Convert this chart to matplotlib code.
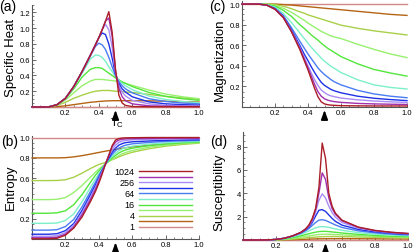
import matplotlib
matplotlib.use('Agg')
import matplotlib.pyplot as plt
from matplotlib.ticker import MultipleLocator

plt.rcParams['font.family'] = ['Liberation Sans', 'DejaVu Sans']

# ── data ──────────────────────────────────────────────────────────────────────
NS = [1, 2, 4, 8, 16, 32, 64, 128, 256, 512, 1024]
COLORS = {1: '#d48888', 2: '#b46414', 4: '#a8d048', 8: '#98f06e',
          16: '#52e63c', 32: '#7df0c8', 64: '#4a7cf2', 128: '#1e32e6',
          256: '#a98cf5', 512: '#a030b0', 1024: '#aa1e28'}

T = [0, .1, .15, .2, .25, .3, .35, .38, .4, .42, .44, .46, .48, .5, .52,
     .54, .56, .6, .7, .8, .9, 1.0]

heat = {
    1:    [0] * 22,
    2:    [0, 0, .005, .015, .03, .045, .06, .065, .07, .073, .076, .078, .08, .08, .08, .08, .08, .08, .078, .073, .068, .063],
    4:    [0, 0, .02, .06, .11, .15, .185, .2, .205, .21, .21, .21, .205, .2, .2, .195, .19, .185, .16, .135, .115, .1],
    8:    [0, 0, .025, .09, .18, .27, .33, .35, .35, .35, .345, .34, .335, .33, .32, .31, .3, .275, .215, .165, .13, .105],
    16:   [0, 0, .03, .105, .23, .38, .48, .5, .5, .49, .46, .43, .4, .37, .345, .32, .3, .26, .185, .135, .105, .085],
    32:   [0, 0, .03, .11, .25, .43, .61, .66, .655, .63, .58, .51, .45, .39, .34, .3, .27, .22, .14, .095, .07, .055],
    64:   [0, 0, .03, .11, .26, .45, .65, .77, .81, .79, .73, .63, .51, .4, .32, .27, .23, .18, .105, .07, .05, .04],
    128:  [0, 0, .03, .11, .26, .45, .66, .79, .88, .94, .92, .8, .62, .41, .3, .23, .19, .13, .065, .04, .03, .024],
    256:  [0, 0, .03, .11, .26, .45, .66, .79, .88, .98, 1.05, .98, .76, .43, .27, .19, .14, .085, .04, .022, .016, .013],
    512:  [0, 0, .03, .11, .26, .45, .66, .79, .88, .98, 1.09, 1.13, .9, .46, .24, .13, .08, .04, .015, .01, .008, .007],
    1024: [0, 0, .03, .11, .26, .45, .66, .79, .88, .98, 1.09, 1.21, .95, .48, .15, .05, .02, .006, .003, .003, .003, .003],
}

entropy = {
    1:    [1] * 22,
    2:    [.8, .8, .8, .802, .81, .822, .837, .847, .853, .86, .866, .872, .878, .884, .889, .894, .899, .908, .925, .94, .952, .962],
    4:    [.577, .577, .578, .585, .61, .65, .695, .72, .735, .745, .755, .768, .782, .795, .81, .823, .835, .855, .89, .915, .932, .945],
    8:    [.39, .39, .393, .41, .46, .53, .61, .66, .69, .715, .74, .765, .785, .805, .823, .84, .853, .872, .905, .925, .94, .95],
    16:   [.256, .256, .26, .28, .34, .44, .56, .63, .67, .705, .74, .77, .8, .825, .848, .865, .878, .895, .92, .936, .948, .956],
    32:   [.157, .157, .16, .185, .25, .37, .51, .59, .645, .695, .74, .78, .815, .845, .87, .888, .9, .915, .935, .948, .957, .963],
    64:   [.09, .09, .095, .125, .195, .32, .47, .56, .625, .685, .74, .79, .835, .87, .895, .913, .925, .938, .952, .962, .968, .972],
    128:  [.05, .05, .055, .085, .155, .285, .44, .535, .605, .675, .74, .8, .855, .895, .925, .94, .95, .958, .966, .972, .976, .979],
    256:  [.03, .03, .035, .065, .135, .26, .41, .51, .59, .665, .74, .82, .88, .925, .952, .965, .972, .978, .982, .985, .987, .988],
    512:  [.015, .015, .02, .05, .12, .24, .39, .49, .57, .655, .74, .83, .91, .955, .975, .983, .987, .99, .992, .993, .993, .993],
    1024: [.005, .005, .01, .04, .11, .22, .37, .47, .55, .64, .74, .82, .92, .975, .99, .995, .997, .998, 1, 1, 1, 1],
}

magnet = {
    1:    [1] * 22,
    2:    [1, 1, 1, 1, .995, .99, .983, .978, .975, .972, .969, .966, .963, .96, .957, .954, .951, .945, .93, .915, .9, .89],
    4:    [1, 1, 1, .995, .98, .955, .925, .91, .895, .885, .875, .865, .855, .845, .835, .825, .815, .795, .765, .74, .72, .7],
    8:    [1, 1, .998, .985, .96, .92, .87, .84, .815, .795, .775, .755, .735, .72, .705, .69, .68, .665, .61, .56, .515, .48],
    16:   [1, 1, .995, .98, .94, .88, .8, .76, .73, .7, .675, .65, .62, .595, .57, .55, .53, .49, .42, .365, .33, .3],
    32:   [1, 1, .995, .97, .91, .82, .72, .66, .62, .58, .545, .51, .475, .445, .42, .395, .375, .335, .265, .215, .19, .175],
    64:   [1, 1, .99, .96, .89, .77, .64, .565, .515, .47, .425, .38, .345, .315, .29, .265, .245, .215, .162, .127, .105, .09],
    128:  [1, 1, .99, .955, .88, .75, .6, .505, .45, .39, .335, .285, .24, .21, .19, .17, .157, .138, .105, .085, .072, .062],
    256:  [1, 1, .99, .95, .875, .74, .58, .47, .4, .33, .265, .21, .165, .14, .12, .108, .1, .087, .07, .058, .05, .045],
    512:  [1, 1, .99, .95, .87, .735, .57, .455, .38, .3, .22, .15, .105, .08, .066, .058, .052, .045, .035, .03, .027, .025],
    1024: [1, 1, .99, .95, .87, .73, .56, .44, .36, .27, .18, .1, .05, .03, .022, .018, .016, .013, .011, .01, .01, .01],
}

suscept = {
    1:    [0] * 22,
    2:    [0, 0, 0, .004, .012, .03, .05, .065, .075, .085, .095, .1, .105, .11, .112, .115, .115, .115, .11, .1, .09, .085],
    4:    [0, 0, .002, .01, .035, .08, .14, .18, .21, .23, .25, .27, .285, .295, .3, .3, .3, .29, .26, .23, .2, .18],
    8:    [0, 0, .004, .02, .06, .14, .25, .32, .36, .4, .44, .47, .49, .5, .49, .48, .47, .44, .37, .31, .27, .24],
    16:   [0, 0, .005, .03, .09, .2, .36, .47, .54, .61, .67, .72, .74, .74, .72, .69, .66, .6, .48, .39, .33, .29],
    32:   [0, 0, .01, .04, .12, .27, .48, .66, .78, .92, 1.04, 1.12, 1.15, 1.13, 1.08, 1.01, .95, .83, .63, .5, .42, .36],
    64:   [0, 0, .01, .05, .14, .32, .57, .8, .99, 1.25, 1.5, 1.7, 1.74, 1.68, 1.55, 1.42, 1.29, 1.07, .78, .61, .5, .43],
    128:  [0, 0, .01, .05, .15, .34, .62, .88, 1.12, 1.5, 2.05, 2.55, 2.6, 2.45, 2.15, 1.85, 1.6, 1.27, .9, .7, .57, .49],
    256:  [0, 0, .01, .05, .15, .35, .64, .93, 1.2, 1.65, 2.4, 3.4, 3.95, 3.6, 2.9, 2.35, 1.95, 1.5, 1.02, .77, .62, .53],
    512:  [0, 0, .01, .05, .15, .35, .65, .95, 1.25, 1.75, 2.6, 4.0, 5.75, 5.2, 3.6, 2.7, 2.2, 1.65, 1.08, .8, .65, .55],
    1024: [0, 0, .01, .05, .15, .35, .65, .95, 1.3, 1.85, 2.7, 4.5, 8.3, 7.0, 4.0, 2.9, 2.3, 1.7, 1.1, .82, .66, .56],
}

T_C = 0.5
LEGEND_LABELS = {1024: '1024', 256: '256', 64: '64', 16: '16', 4: '4', 1: '1'}

# ── figure ────────────────────────────────────────────────────────────────────
W, H = 415, 253
AXC = '#555555'
fig = plt.figure(figsize=(W / 100, H / 100), dpi=100)


def px_axes(x0, x1, y_top, y_bot):
    return fig.add_axes([x0 / W, 1 - y_bot / H, (x1 - x0) / W, (y_bot - y_top) / H])


def style(ax, ymax, yticks, yminor):
    ax.set_xlim(0, 1)
    ax.set_ylim(0, ymax)
    for s in ['top', 'right']:
        ax.spines[s].set_visible(False)
    for s in ['left', 'bottom']:
        ax.spines[s].set_color(AXC)
        ax.spines[s].set_linewidth(0.8)
    ax.set_xticks([0.2, 0.4, 0.6, 0.8, 1.0])
    ax.set_xticklabels(['0.2', '0.4', '0.6', '0.8', '1.0'])
    ax.set_yticks(yticks)
    ax.set_yticklabels([f'{v:g}' if v >= 2 else f'{v:.1f}' for v in yticks])
    ax.xaxis.set_minor_locator(MultipleLocator(0.05))
    ax.yaxis.set_minor_locator(MultipleLocator(yminor))
    ax.tick_params(which='major', direction='in', length=3, width=0.6,
                   color=AXC, labelsize=5.5, pad=1.5)
    ax.tick_params(which='minor', direction='in', length=1.5, width=0.5, color=AXC)
    ax.set_facecolor('none')


def curves(ax, data):
    for n in NS:
        ax.plot(T, data[n], color=COLORS[n], lw=1.0, clip_on=False, zorder=3)


def tc_arrow(ax):
    tr = ax.get_xaxis_transform()
    h = ax.get_position().height * H
    ax.annotate('', xy=(T_C, -3 / h), xycoords=tr, xytext=(T_C, -13 / h), textcoords=tr,
                arrowprops=dict(arrowstyle='-|>,head_width=0.2,head_length=0.55',
                                color='k', lw=1.2, shrinkA=0, shrinkB=0))


ax_a = px_axes(32, 199, 5.6, 108)
style(ax_a, 1.3, [0.2, 0.4, 0.6, 0.8, 1.0, 1.2], 0.05)
curves(ax_a, heat)
tc_arrow(ax_a)

ax_c = px_axes(242, 407, 2, 108)
style(ax_c, 1.03, [0.2, 0.4, 0.6, 0.8, 1.0], 0.05)
curves(ax_c, magnet)
tc_arrow(ax_c)

ax_b = px_axes(32, 199, 137, 240.3)
style(ax_b, 1.015, [0.2, 0.4, 0.6, 0.8, 1.0], 0.05)
curves(ax_b, entropy)
tc_arrow(ax_b)

ax_d = px_axes(243, 408, 133, 241)
style(ax_d, 9.25, [2, 4, 6, 8], 0.5)
curves(ax_d, suscept)
tc_arrow(ax_d)

# legend inside (b), labels on the left of every other line
for i, n in enumerate(NS[::-1]):
    y = (172.3 + i * 5.54 - 137) / (240.3 - 137)
    ax_b.plot([0.64, 0.96], [1 - y, 1 - y], color=COLORS[n], lw=1.0,
              transform=ax_b.transAxes, zorder=4)
    if n in LEGEND_LABELS:
        ax_b.text(0.615, 1 - y, LEGEND_LABELS[n], transform=ax_b.transAxes,
                  ha='right', va='center', fontsize=6.5)

# axis titles and panel letters
fig.text(11 / W, 1 - 58 / H, 'Specific Heat', rotation=90, ha='center', va='center', fontsize=9.5)
fig.text(220 / W, 1 - 60 / H, 'Magnetization', rotation=90, ha='center', va='center', fontsize=9.5)
fig.text(11 / W, 1 - 187 / H, 'Entropy', rotation=90, ha='center', va='center', fontsize=9.5)
fig.text(219.5 / W, 1 - 192 / H, 'Susceptibility', rotation=90, ha='center', va='center', fontsize=9.5)
for lbl, x, y in [('(a)', 7.5, 7), ('(c)', 217, 7), ('(b)', 10, 142), ('(d)', 219, 142)]:
    fig.text(x / W, 1 - y / H, lbl, ha='center', va='center', fontsize=10)
fig.text(117 / W, 1 - 123 / H, r'T$_\mathregular{C}$', ha='center', va='center', fontsize=8)

fig.savefig('out.png', dpi=100, facecolor='white')
